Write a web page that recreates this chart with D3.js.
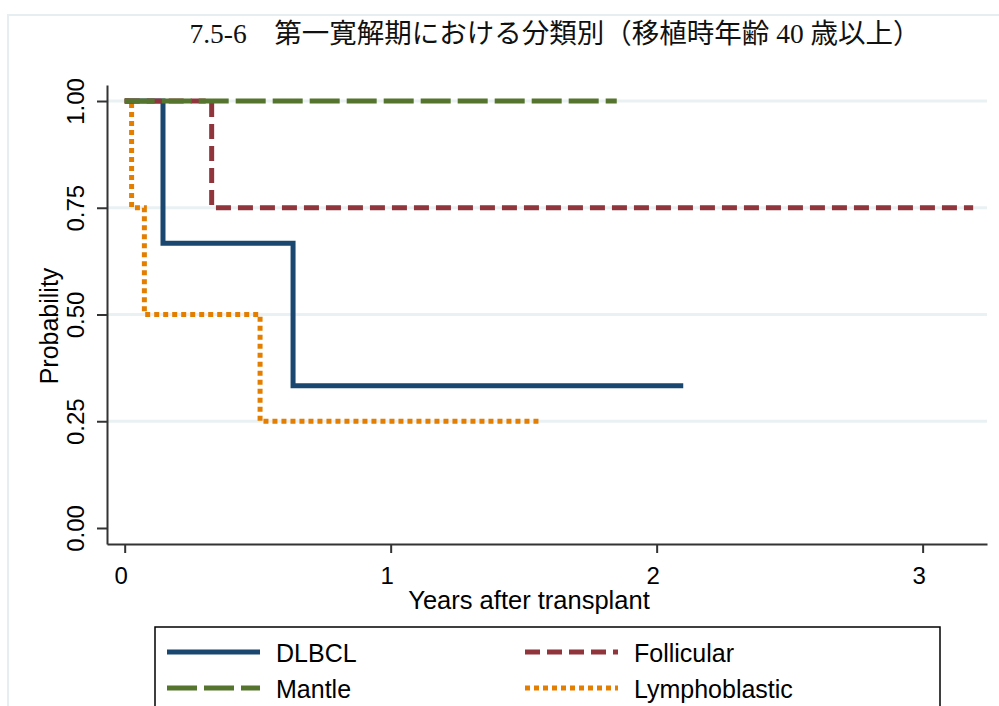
<!DOCTYPE html>
<html><head><meta charset="utf-8">
<script src="https://cdn.jsdelivr.net/npm/d3@7"></script>
<style>body{margin:0;background:#fff}svg{display:block}</style>
</head><body>
<script>
const title = "7.5-6\u3000第一寛解期における分類別（移植時年齢 40 歳以上）";
const xTicks = [0, 1, 2, 3];
const yTicks = [0, 0.25, 0.5, 0.75, 1];
const yTickLabels = ["0.00", "0.25", "0.50", "0.75", "1.00"];
const seriesNames = ["DLBCL", "Follicular", "Mantle", "Lymphoblastic"];
// step curves: [time, survival]
const dlbcl = [[0,1],[0.144,0.667],[0.633,0.333],[2.10,0.333]];
const follicular = [[0,1],[0.327,0.75],[3.19,0.75]];
const mantle = [[0,1],[1.85,1]];
const lymphoblastic = [[0,1],[0.026,0.75],[0.074,0.5],[0.509,0.25],[1.565,0.25]];

const W = 999, H = 706;
const svg = d3.select("body").append("svg").attr("width", W).attr("height", H);
const font = "'Liberation Sans', Arial, sans-serif";

// outer frame
svg.append("path").attr("d", `M8,${H} V15 H${W}`).attr("fill","none").attr("stroke","#e6eef2").attr("stroke-width",2);

const x = d3.scaleLinear().domain([-0.0665, 3.242]).range([107, 987]);
const y = d3.scaleLinear().domain([-0.0375, 1.0375]).range([544, 85]);

// title
svg.append("text").attr("x", 555).attr("y", 43).attr("text-anchor","middle")
  .attr("font-family","'Liberation Serif','DejaVu Serif','Noto Sans CJK JP',serif").attr("font-size",27.5)
  .attr("fill","#111").text(title);

// grid
svg.append("g").selectAll("line").data(yTicks.filter(d=>d>0)).join("line")
  .attr("x1",107).attr("x2",987).attr("y1",d=>y(d)).attr("y2",d=>y(d))
  .attr("stroke","#eaf1f3").attr("stroke-width",3);

// axes
const yAxis = svg.append("g").attr("transform","translate(107,0)")
  .call(d3.axisLeft(y).tickValues(yTicks).tickFormat((d,i)=>yTickLabels[i]).tickSize(10).tickSizeOuter(0));
yAxis.select(".domain").attr("stroke","#333").attr("stroke-width",2);
yAxis.selectAll(".tick line").attr("stroke","#333").attr("stroke-width",2);
yAxis.selectAll(".tick text").attr("font-family",font).attr("font-size",24).attr("fill","#000")
  .attr("text-anchor","middle").attr("x",0).attr("dy",0)
  .attr("transform","translate(-29,0) rotate(-90)").attr("dominant-baseline","middle");

const xAxis = svg.append("g").attr("transform","translate(0,544)")
  .call(d3.axisBottom(x).tickValues(xTicks).tickFormat(d3.format("d")).tickSize(9).tickSizeOuter(0));
xAxis.select(".domain").attr("stroke","#333").attr("stroke-width",2);
xAxis.selectAll(".tick line").attr("stroke","#333").attr("stroke-width",2);
xAxis.selectAll(".tick text").attr("font-family",font).attr("font-size",24).attr("fill","#000").attr("y",23).attr("dy","0.71em").attr("transform","translate(-4,0)");

// axis titles
svg.append("text").attr("x",529).attr("y",609).attr("text-anchor","middle")
  .attr("font-family",font).attr("font-size",25.5).attr("fill","#000").text("Years after transplant");
svg.append("text").attr("transform","translate(58,326) rotate(-90)").attr("text-anchor","middle")
  .attr("font-family",font).attr("font-size",25).attr("fill","#000").text("Probability");

const styles = [
  {data: dlbcl, color:"#1a476f", dash:null},
  {data: follicular, color:"#90353b", dash:"15,7"},
  {data: mantle, color:"#55752f", dash:"30,7"},
  {data: lymphoblastic, color:"#e37e00", dash:"5,4"}
];
const line = d3.line().x(d=>x(d[0])).y(d=>y(d[1])).curve(d3.curveStepAfter);
// draw order: lymphoblastic, dlbcl, follicular, mantle on top
[3,0,1,2].forEach(i=>{
  const s = styles[i];
  svg.append("path").datum(s.data).attr("d",line).attr("fill","none")
    .attr("stroke",s.color).attr("stroke-width",5).attr("stroke-dasharray",s.dash);
});

// legend
svg.append("rect").attr("x",155).attr("y",627).attr("width",785).attr("height",100)
  .attr("fill","#fff").attr("stroke","#000").attr("stroke-width",1.5);
const legPos = [[167,652],[525,652],[167,688],[525,688]];
const legDash = [null,"15,7","30,7","5,4"];
seriesNames.forEach((n,i)=>{
  const [lx,ly] = legPos[i];
  svg.append("line").attr("x1",lx).attr("x2",lx+93).attr("y1",ly).attr("y2",ly)
    .attr("stroke",styles[i].color).attr("stroke-width",5).attr("stroke-dasharray",legDash[i]);
  svg.append("text").attr("x",lx+109).attr("y",ly+10).attr("font-family",font).attr("font-size",25)
    .attr("fill","#000").text(n);
});
</script>
</body></html>
